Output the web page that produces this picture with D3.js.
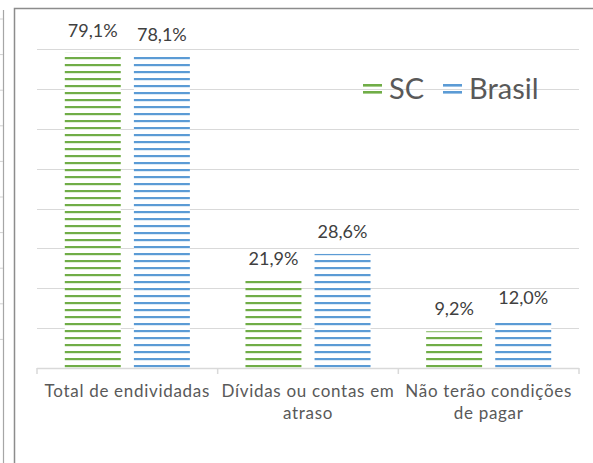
<!DOCTYPE html>
<html>
<head>
<meta charset="utf-8">
<script src="https://cdn.jsdelivr.net/npm/d3@7/dist/d3.min.js"></script>
<style>
  html, body { margin: 0; padding: 0; background: #fff; }
  svg { display: block; }
  text { font-family: Lato, "Open Sans", sans-serif; }
</style>
</head>
<body>
<svg id="chart" width="593" height="463"></svg>
<script>
// Endividamento das famílias: SC x Brasil
const categories = [
  ["Total de endividadas"],
  ["Dívidas ou contas em", "atraso"],
  ["Não terão condições", "de pagar"]
];
const seriesNames = ["SC", "Brasil"];
const scValues = [79.1, 21.9, 9.2];
const brasilValues = [78.1, 28.6, 12.0];
const valueLabelsSC = ["79,1%", "21,9%", "9,2%"];
const valueLabelsBR = ["78,1%", "28,6%", "12,0%"];
const gridTicks = [0, 10, 20, 30, 40, 50, 60, 70, 80];
const seriesColors = ["#70ad47", "#5b9bd5"];

const svg = d3.select("#chart");
const W = 593, H = 463;
const plot = { left: 37, right: 579, top: 49, bottom: 368 };

// neighbouring panel edge on the far left
const nb = svg.append("g");
nb.append("line").attr("x1", 3.5).attr("x2", 3.5).attr("y1", 10).attr("y2", H)
  .attr("stroke", "#a6a6a6").attr("stroke-width", 1.2);
nb.selectAll("line.stub").data(d3.range(19, 345, 35.6)).join("line")
  .attr("class", "stub").attr("x1", 0).attr("x2", 3).attr("y1", d => d).attr("y2", d => d)
  .attr("stroke", "#d0d0d0");

// chart frame (left and top edges)
svg.append("path")
  .attr("d", `M14.5,${H} L14.5,8.5 L${W},8.5`)
  .attr("fill", "none").attr("stroke", "#8c8c8c").attr("stroke-width", 1.5);

const y = d3.scaleLinear().domain([0, 80]).range([plot.bottom, plot.top]);
const x0 = d3.scaleBand().domain(d3.range(categories.length)).range([plot.left, plot.right]).padding(0);
const groupPad = 27.8;
const x1 = d3.scaleBand().domain(seriesNames)
  .range([groupPad, x0.bandwidth() - groupPad]).paddingInner(0.19);

// gridlines
svg.append("g").selectAll("line").data(gridTicks.filter(t => t > 0)).join("line")
  .attr("x1", plot.left).attr("x2", plot.right)
  .attr("y1", d => Math.round(y(d)) + 0.5).attr("y2", d => Math.round(y(d)) + 0.5)
  .attr("stroke", "#d9d9d9").attr("stroke-width", 1.2);

// horizontal-line fill patterns
const defs = svg.append("defs");
seriesNames.forEach((s, i) => {
  const p = defs.append("pattern").attr("id", "hatch" + i)
    .attr("patternUnits", "userSpaceOnUse").attr("width", 8).attr("height", 7);
  p.append("rect").attr("width", 8).attr("height", 7).attr("fill", "#fff");
  p.append("rect").attr("y", 1).attr("width", 8).attr("height", 2.2).attr("fill", seriesColors[i]);
});

const rows = categories.map((c, i) => ({ i, SC: scValues[i], Brasil: brasilValues[i],
  labels: { SC: valueLabelsSC[i], Brasil: valueLabelsBR[i] } }));

const groups = svg.append("g").selectAll("g").data(rows).join("g")
  .attr("transform", d => `translate(${x0(d.i)},0)`);

groups.selectAll("rect").data(d => seriesNames.map((s, k) => ({ s, k, v: d[s], label: d.labels[s] })))
  .join("rect")
  .attr("x", d => x1(d.s)).attr("width", x1.bandwidth())
  .attr("y", d => y(d.v)).attr("height", d => y(0) - y(d.v))
  .attr("fill", d => `url(#hatch${d.k})`);

groups.selectAll("text.val").data(d => seriesNames.map((s, k) => ({ s, k, v: d[s], label: d.labels[s] })))
  .join("text").attr("class", "val")
  .attr("x", d => x1(d.s) + x1.bandwidth() / 2)
  .attr("y", d => y(d.v) - 16)
  .attr("text-anchor", "middle").attr("font-size", 18).attr("fill", "#404040")
  .text(d => d.label);

// category axis
const ax = svg.append("g");
ax.append("line").attr("x1", plot.left).attr("x2", plot.right)
  .attr("y1", plot.bottom + 0.5).attr("y2", plot.bottom + 0.5)
  .attr("stroke", "#d9d9d9").attr("stroke-width", 1.5);
ax.selectAll("line.tick").data(d3.range(categories.length + 1)).join("line").attr("class", "tick")
  .attr("x1", d => plot.left + d * x0.bandwidth()).attr("x2", d => plot.left + d * x0.bandwidth())
  .attr("y1", plot.bottom).attr("y2", plot.bottom + 6)
  .attr("stroke", "#d9d9d9").attr("stroke-width", 1.5);

ax.selectAll("text").data(categories).join("text")
  .attr("x", (d, i) => x0(i) + x0.bandwidth() / 2)
  .attr("y", 397)
  .attr("text-anchor", "middle").attr("font-size", 17).attr("letter-spacing", 0.7)
  .attr("fill", "#595959")
  .selectAll("tspan").data(d => d).join("tspan")
  .attr("x", function() { return d3.select(this.parentNode).attr("x"); })
  .attr("dy", (d, i) => i === 0 ? 0 : 22)
  .text(d => d);

// legend
const legend = svg.append("g");
const legendItems = [{ name: "SC", x: 363 }, { name: "Brasil", x: 443 }];
legendItems.forEach((it, i) => {
  const g = legend.append("g").attr("transform", `translate(${it.x},0)`);
  [84, 91].forEach(yy => g.append("rect").attr("x", 0).attr("y", yy).attr("width", 19).attr("height", 2.6)
    .attr("fill", seriesColors[i]));
  g.append("text").attr("x", 26).attr("y", 99).attr("font-size", 29).attr("fill", "#595959").text(it.name);
});
</script>
</body>
</html>
